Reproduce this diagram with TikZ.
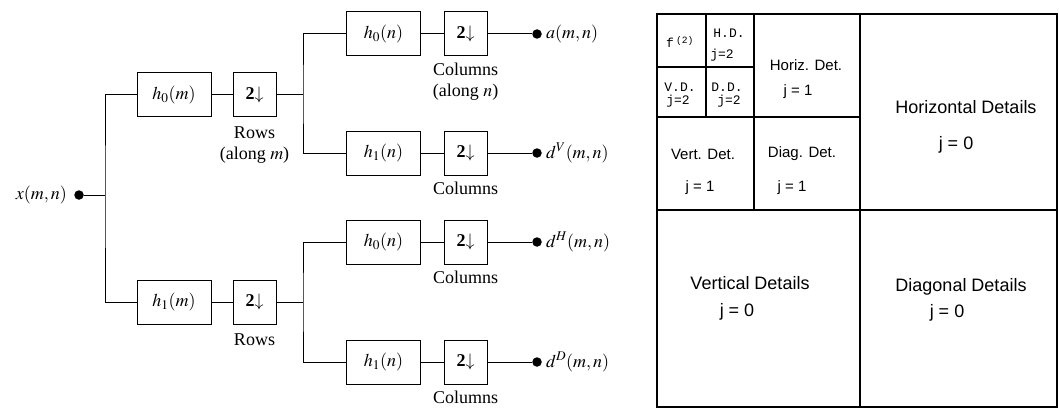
\documentclass[tikz,border=0pt]{standalone}
\usepackage{mathptmx}
\usepackage{fontspec}
\setmainfont{Liberation Serif}
\newfontfamily\detfont{Liberation Sans}
\newfontfamily\codefont{Liberation Mono}
\usetikzlibrary{positioning}

\begin{document}
\begin{tikzpicture}[
    x=1pt, y=-1pt,
    filt/.style={rectangle, draw, line width=1pt, minimum width=74pt, minimum height=44pt,
                 inner sep=0pt, font=\fontsize{18}{20}\selectfont},
    down/.style={filt, minimum width=43pt},
    lbl/.style={align=center, inner sep=0pt, font=\fontsize{18}{21}\selectfont},
    tap/.style={circle, fill, inner sep=0pt, minimum size=9.5pt},
    wire/.style={line width=1pt},
    panel/.style={line width=1.6pt},
    bigtxt/.style={inner sep=0pt, font=\detfont\fontsize{18}{20}\selectfont},
    midtxt/.style={inner sep=0pt, font=\detfont\fontsize{15}{17}\selectfont},
    codetxt/.style={inner sep=0pt, font=\codefont\fontsize{13}{15}\selectfont}
]
    \useasboundingbox (0,0) rectangle (1059,409);

    % rows
    \node[tap] (xin) at (79,195) {};
    \node[lbl, left=7pt of xin] (xlab) {$x(m,n)$};
    \coordinate (sr) at (105,195);
    \node[filt] (hm0) at (174,95) {$h_0(m)$};
    \node[down] (dm0) at (254.5,95) {{\bfseries 2}$\downarrow$};
    \node[filt] (hm1) at (174,302) {$h_1(m)$};
    \node[down] (dm1) at (254.5,302) {{\bfseries 2}$\downarrow$};
    \node[lbl, below=9pt of dm0] (rlab0) {Rows\\(along $m$)};
    \node[lbl, below=9pt of dm1] (rlab1) {Rows};
    \coordinate (sc0) at (303,95);
    \coordinate (sc1) at (303,302);

    % columns
    \node[filt] (hn00) at (383.5,34) {$h_0(n)$};
    \node[down] (dn00) at (465.5,34) {{\bfseries 2}$\downarrow$};
    \node[filt] (hn01) at (383.5,153) {$h_1(n)$};
    \node[down] (dn01) at (465.5,153) {{\bfseries 2}$\downarrow$};
    \node[filt] (hn10) at (383.5,242) {$h_0(n)$};
    \node[down] (dn10) at (465.5,242) {{\bfseries 2}$\downarrow$};
    \node[filt] (hn11) at (383.5,362) {$h_1(n)$};
    \node[down] (dn11) at (465.5,362) {{\bfseries 2}$\downarrow$};
    \node[lbl, below=6pt of dn00] (clab00) {Columns\\(along $n$)};
    \node[lbl, below=6pt of dn01] (clab01) {Columns};
    \node[lbl, below=6pt of dn10] (clab10) {Columns};
    \node[lbl, below=6pt of dn11] (clab11) {Columns};

    \node[tap] (oa) at (537,34) {};
    \node[tap] (ov) at (537,153) {};
    \node[tap] (oh) at (537,242) {};
    \node[tap] (od) at (537,362) {};
    \node[lbl, right=4pt of oa] (alab) {$a(m,n)$};
    \node[lbl, right=4pt of ov] (vlab) {$d^V(m,n)$};
    \node[lbl, right=4pt of oh] (hlab) {$d^H(m,n)$};
    \node[lbl, right=4pt of od] (dlab) {$d^D(m,n)$};

    \draw[wire] (xin) -- (sr);
    \draw[wire] (hm0.west) -| (sr) |- (hm1.west);
    \draw[wire] (hm0) -- (dm0);
    \draw[wire] (hm1) -- (dm1);
    \draw[wire] (dm0) -- (sc0);
    \draw[wire] (dm1) -- (sc1);
    \draw[wire] (hn00.west) -| (sc0) |- (hn01.west);
    \draw[wire] (hn10.west) -| (sc1) |- (hn11.west);
    \draw[wire] (hn00) -- (dn00);
    \draw[wire] (hn01) -- (dn01);
    \draw[wire] (hn10) -- (dn10);
    \draw[wire] (hn11) -- (dn11);
    \draw[wire] (dn00) -- (oa);
    \draw[wire] (dn01) -- (ov);
    \draw[wire] (dn10) -- (oh);
    \draw[wire] (dn11) -- (od);

    % subband layout
    \draw[panel] (657,14) rectangle (1057,407);
    \draw[panel] (860,14) -- (860,407);
    \draw[panel] (657,210) -- (1057,210);
    \draw[panel] (754,14) -- (754,210);
    \draw[panel] (657,117) -- (860,117);
    \draw[panel] (706,14) -- (706,117);
    \draw[panel] (657,67) -- (754,67);

    \node[codetxt] (ll) at (680,42) {f\kern2pt\textsuperscript{(2)}};
    \node[codetxt] (hd) at (729,33) {H.D.};
    \node[codetxt] (hdj) at (722,55) {j=2};
    \node[codetxt] (vd) at (680,87) {V.D.};
    \node[codetxt] (vdj) at (678,101) {j=2};
    \node[codetxt] (dd) at (727,87) {D.D.};
    \node[codetxt] (ddj) at (729,101) {j=2};

    \node[midtxt] (hd1) at (806,65) {Horiz. Det.};
    \node[midtxt] (hd1j) at (798,92) {j = 1};
    \node[midtxt] (vd1) at (703,154) {Vert. Det.};
    \node[midtxt] (vd1j) at (700,188) {j = 1};
    \node[midtxt] (dd1) at (802,154) {Diag. Det.};
    \node[midtxt] (dd1j) at (792,188) {j = 1};

    \node[bigtxt] (hd0) at (966,107) {Horizontal Details};
    \node[bigtxt] (hd0j) at (956,145) {j = 0};
    \node[bigtxt] (vd0) at (750,283) {Vertical Details};
    \node[bigtxt] (vd0j) at (737,312) {j = 0};
    \node[bigtxt] (dd0) at (961,287) {Diagonal Details};
    \node[bigtxt] (dd0j) at (947,313) {j = 0};
\end{tikzpicture}
\end{document}
